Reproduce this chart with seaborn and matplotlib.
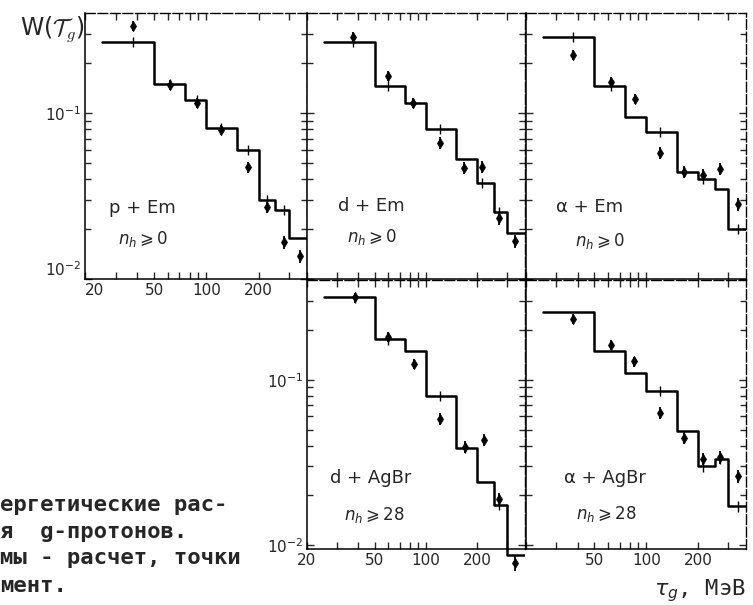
import matplotlib
matplotlib.use('Agg')
import matplotlib.pyplot as plt
import matplotlib.ticker as mticker
from matplotlib.transforms import Bbox, TransformedBbox
import seaborn as sns
import pandas as pd
import numpy as np

# %% data

bin_edges = [25, 50, 75, 100, 150, 200, 250, 300, 400]

# p + Em, n_h >= 0
p_em_calc = [0.268, 0.150, 0.120, 0.081, 0.060, 0.030, 0.026, 0.0177]
p_em_x = [38, 62, 88, 122, 173, 223, 279, 346]
p_em_y = [0.334, 0.147, 0.115, 0.079, 0.047, 0.027, 0.0167, 0.0138]
p_em_err = [0.07, 0.07, 0.07, 0.07, 0.08, 0.08, 0.09, 0.09]
p_em_cross = [1, 1, 1, 1, 1, 1, 1, 0]

# d + Em, n_h >= 0
d_em_calc = [0.268, 0.145, 0.115, 0.080, 0.0528, 0.0378, 0.0253, 0.0190]
d_em_x = [37, 60, 84, 120, 166, 214, 268, 333]
d_em_y = [0.287, 0.167, 0.115, 0.066, 0.0466, 0.0473, 0.0233, 0.0169]
d_em_err = [0.07, 0.07, 0.07, 0.08, 0.08, 0.08, 0.09, 0.09]
d_em_cross = [1, 1, 1, 1, 0, 1, 1, 0]

# alpha + Em, n_h >= 0
a_em_calc = [0.287, 0.145, 0.0946, 0.0769, 0.0441, 0.040, 0.0348, 0.020]
a_em_x = [37.5, 62, 86, 120, 166, 214, 268, 341]
a_em_y = [0.224, 0.154, 0.121, 0.0574, 0.0441, 0.0423, 0.046, 0.0283]
a_em_err = [0.07, 0.07, 0.07, 0.08, 0.08, 0.08, 0.08, 0.09]
a_em_cross = [1, 1, 0, 1, 1, 1, 0, 1]

# d + AgBr, n_h >= 28
d_agbr_calc = [0.314, 0.175, 0.150, 0.080, 0.0387, 0.0241, 0.0175, 0.0087]
d_agbr_x = [38, 60, 84.5, 120, 168, 217, 268, 333]
d_agbr_y = [0.314, 0.182, 0.125, 0.058, 0.0393, 0.0433, 0.019, 0.0078]
d_agbr_err = [0.07, 0.07, 0.07, 0.08, 0.08, 0.08, 0.09, 0.1]
d_agbr_cross = [1, 1, 0, 1, 1, 0, 1, 0]

# alpha + AgBr, n_h >= 28
a_agbr_calc = [0.258, 0.150, 0.110, 0.0858, 0.049, 0.030, 0.0332, 0.0172]
a_agbr_x = [37.5, 62, 85, 120, 166, 214, 268, 340]
a_agbr_y = [0.234, 0.163, 0.129, 0.063, 0.0445, 0.0332, 0.0342, 0.0262]
a_agbr_err = [0.07, 0.07, 0.07, 0.08, 0.08, 0.08, 0.09, 0.09]
a_agbr_cross = [0, 0, 0, 1, 0, 1, 1, 1]

x_ticks = [20, 30, 40, 50, 60, 70, 80, 90, 100, 200, 300]
x_labelled = [20, 50, 100, 200]

caption_lines = ['ергетические рас-', 'я  g-протонов.', 'мы - расчет, точки', 'мент.']

# %% style

sns.set_style('white')
plt.rcParams['font.family'] = ['DejaVu Sans']
plt.rcParams['axes.linewidth'] = 1.1

W, H = 753, 605
fig = plt.figure(figsize=(W / 100, H / 100), dpi=100)


def fx(px):
    return px / W


def fy(py):
    return 1 - py / H


# axes boxes in pixels: (left, right), (top, bottom)
top_row = (13, 279)
bot_row = (280, 549)
cols = [(85, 307), (307, 525), (526, 746)]

panels = [
    dict(box=(cols[0], top_row), calc=p_em_calc, x=p_em_x, y=p_em_y, err=p_em_err, cross=p_em_cross,
         name='p + Em', cond=r'$n_h \geqslant 0$', xl=x_labelled, yl=True, ylim=(0.01, 0.4),
         name_xy=(142, 208), cond_xy=(143, 239)),
    dict(box=(cols[1], top_row), calc=d_em_calc, x=d_em_x, y=d_em_y, err=d_em_err, cross=d_em_cross,
         name='d + Em', cond=r'$n_h \geqslant 0$', xl=[], yl=False, ylim=(0.01, 0.4),
         name_xy=(371, 206), cond_xy=(372, 237)),
    dict(box=(cols[2], top_row), calc=a_em_calc, x=a_em_x, y=a_em_y, err=a_em_err, cross=a_em_cross,
         name='α + Em', cond=r'$n_h \geqslant 0$', xl=[], yl=False, ylim=(0.01, 0.4),
         name_xy=(590, 207), cond_xy=(600, 241)),
    dict(box=(cols[1], bot_row), calc=d_agbr_calc, x=d_agbr_x, y=d_agbr_y, err=d_agbr_err, cross=d_agbr_cross,
         name='d + AgBr', cond=r'$n_h \geqslant 28$', xl=x_labelled, yl=True, ylim=(0.0095, 0.4),
         name_xy=(371, 478), cond_xy=(374, 515)),
    dict(box=(cols[2], bot_row), calc=a_agbr_calc, x=a_agbr_x, y=a_agbr_y, err=a_agbr_err, cross=a_agbr_cross,
         name='α + AgBr', cond=r'$n_h \geqslant 28$', xl=[50, 100, 200], yl=False, ylim=(0.0095, 0.4),
         name_xy=(605, 478), cond_xy=(606, 514)),
]

for p in panels:
    (l, r), (t, b) = p['box']
    ax = fig.add_axes([fx(l), fy(b), fx(r) - fx(l), fy(t) - fy(b)])
    ax.set(xscale='log', yscale='log')
    ax.set_xlim(20, 380)
    ax.set_ylim(*p['ylim'])

    # histogram = calculation
    steps = pd.DataFrame({'E': bin_edges, 'W': p['calc'] + [p['calc'][-1]]})
    sns.lineplot(data=steps, x='E', y='W', drawstyle='steps-post', estimator=None, sort=False,
                 color='black', lw=1.8, ax=ax)

    # calc. statistical error ticks on the histogram
    idx = np.searchsorted(bin_edges, p['x']) - 1
    lev = np.array(p['calc'])[idx]
    cx = [x for x, c in zip(p['x'], p['cross']) if c]
    cy = [v for v, c in zip(lev, p['cross']) if c]
    ax.errorbar(cx, cy, yerr=np.array(cy) * 0.07, fmt='none', ecolor='black', elinewidth=1.0, capsize=0)

    # points = experiment
    py = np.array(p['y'])
    ax.errorbar(p['x'], py, yerr=py * np.array(p['err']), fmt='none', ecolor='black',
                elinewidth=1.3, capsize=0)
    sns.scatterplot(x=p['x'], y=p['y'], marker='d', s=28, color='black', edgecolor='black',
                    ax=ax, zorder=4)

    # the last bin of d+AgBr drops a little below the frame: clip only left/right/top
    clip_box = TransformedBbox(Bbox([[0, -0.12], [1, 1]]), ax.transAxes)
    for art in ax.lines + ax.collections:
        art.set_clip_path(None)
        art.set_clip_box(clip_box)

    # ticks
    ax.set_xticks(x_ticks)
    ax.set_xticklabels([str(v) if v in p['xl'] else '' for v in x_ticks])
    ax.xaxis.set_minor_locator(mticker.NullLocator())
    ax.yaxis.set_major_locator(mticker.FixedLocator([0.01, 0.1]))
    ax.yaxis.set_minor_locator(mticker.FixedLocator([0.02, 0.03, 0.04, 0.05, 0.06, 0.07, 0.08, 0.09, 0.2, 0.3]))
    ax.yaxis.set_minor_formatter(mticker.NullFormatter())
    if p['yl']:
        ax.set_yticklabels([r'$10^{-2}$', r'$10^{-1}$'])
        if p['ylim'][0] == 0.01:
            ax.get_yticklabels()[0].set_va('bottom')   # 10^-2 sits a bit above the corner
    else:
        ax.set_yticklabels(['', ''])
    if 20 in p['xl'] and p['ylim'][0] == 0.01:
        ax.get_xticklabels()[0].set_ha('left')
    ax.tick_params(which='both', direction='in', top=True, right=True, bottom=True, left=True,
                   width=1.0, labelsize=11, pad=3)
    ax.tick_params(which='major', length=5)
    ax.tick_params(which='minor', length=4)
    for side, s in ax.spines.items():
        s.set_color('black')
        if side in ('top', 'right'):
            s.set_linestyle((0, (7, 2)))
            s.set_linewidth(1.0)
    ax.set_xlabel('')
    ax.set_ylabel('')

    fig.text(fx(p['name_xy'][0]), fy(p['name_xy'][1]), p['name'], ha='center', va='center', fontsize=13)
    fig.text(fx(p['cond_xy'][0]), fy(p['cond_xy'][1]), p['cond'], ha='center', va='center', fontsize=12)

# axis titles
fig.text(fx(20), fy(35), r'W($\mathcal{T}_g$)', fontsize=17, ha='left', va='baseline', math_fontfamily='cm')
fig.text(fx(746), fy(595), r'$\tau_g$, МэВ', fontsize=16, ha='right', va='baseline',
         family=['DejaVu Sans Mono'])

# cut-off figure caption
for line, base in zip(caption_lines, [511, 538, 564, 592]):
    fig.text(fx(0), fy(base), line, fontsize=16, ha='left', va='baseline',
             family=['DejaVu Sans Mono'], fontweight='bold')

plt.savefig('out.png', dpi=100)
